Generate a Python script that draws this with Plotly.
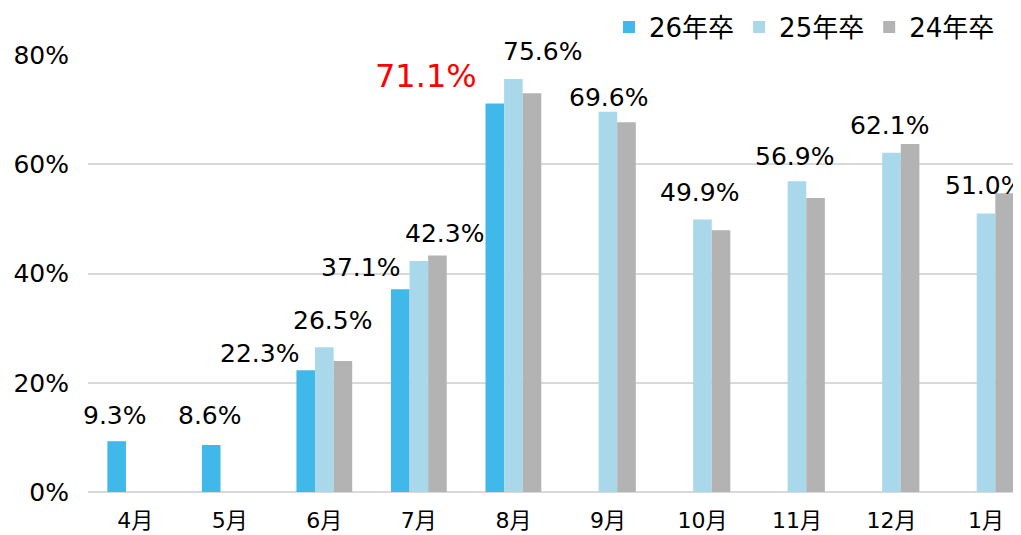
import plotly.graph_objects as go

months = ["4月", "5月", "6月", "7月", "8月", "9月", "10月", "11月", "12月", "1月"]
s26 = [9.3, 8.6, 22.3, 37.1, 71.1, None, None, None, None, None]
s25 = [None, None, 26.5, 42.3, 75.6, 69.6, 49.9, 56.9, 62.1, 51.0]
s24 = [None, None, 24.0, 43.3, 73.0, 67.7, 47.9, 53.8, 63.7, 54.7]
y_ticks = [0, 20, 40, 60, 80]
y_tick_text = ["0%", "20%", "40%", "60%", "80%"]

# data-label placement (style only): (series, index, x offset px from category centre, y offset px above bar top, colour, size)
label_style = [
    (s26, 0, -20, 26, "black", 25),
    (s26, 1, -20, 30, "black", 25),
    (s26, 2, -65, 17, "black", 25),
    (s26, 3, -58, 22, "black", 25),
    (s26, 4, -87, 28, "red", 32),
    (s25, 2, 8, 27, "black", 25),
    (s25, 3, 26, 27, "black", 25),
    (s25, 4, 29, 28, "black", 25),
    (s25, 5, 1, 14, "black", 25),
    (s25, 6, -3, 27, "black", 25),
    (s25, 7, -2, 25, "black", 25),
    (s25, 8, -2, 27, "black", 25),
    (s25, 9, -2, 28, "black", 25),
]

LAT = "DejaVu Sans, Noto Sans CJK JP"
W, H = 1013, 527   # page body adds an 8px margin around the figure
fig = go.Figure()
fig.add_bar(name="26年卒", x=months, y=s26, marker_color="#41b8ea", marker_line_width=0)
fig.add_bar(name="25年卒", x=months, y=s25, marker_color="#a8d8ea", marker_line_width=0)
fig.add_bar(name="24年卒", x=months, y=s24, marker_color="#b3b3b3", marker_line_width=0)

for vals, i, dx, dy, col, sz in label_style:
    fig.add_annotation(x=months[i], y=vals[i], text=f"{vals[i]:.1f}%", showarrow=False,
                       xshift=dx, yshift=dy, yanchor="middle", xanchor="center",
                       font=dict(family=LAT, size=sz, color=col))

fig.update_layout(
    width=W, height=H,
    margin=dict(l=80, r=0, t=47, b=43, autoexpand=False),
    plot_bgcolor="white", paper_bgcolor="white",
    barmode="group", bargap=0.41, bargroupgap=0,
    font=dict(family=LAT, size=22, color="black"),
    legend=dict(orientation="h", xref="container", yref="container",
                x=992 / W, xanchor="right", y=1 - 19 / H, yanchor="middle",
                font=dict(family=LAT, size=26),
                itemwidth=30, traceorder="normal", bgcolor="rgba(0,0,0,0)"),
    showlegend=True,
)
fig.update_xaxes(range=[-0.5, 9.37], showgrid=False, showline=False, ticks="",
                 tickfont=dict(family=LAT, size=22), ticklabelstandoff=13, fixedrange=True)
fig.update_yaxes(range=[0, 80], tickvals=y_ticks, ticktext=y_tick_text,
                 showgrid=True, gridcolor="#d9d9d9", gridwidth=2,
                 zeroline=True, zerolinecolor="#d9d9d9", zerolinewidth=2,
                 showline=False, ticks="", ticklabelstandoff=18,
                 tickfont=dict(family=LAT, size=25))

fig.write_html("out.html")
